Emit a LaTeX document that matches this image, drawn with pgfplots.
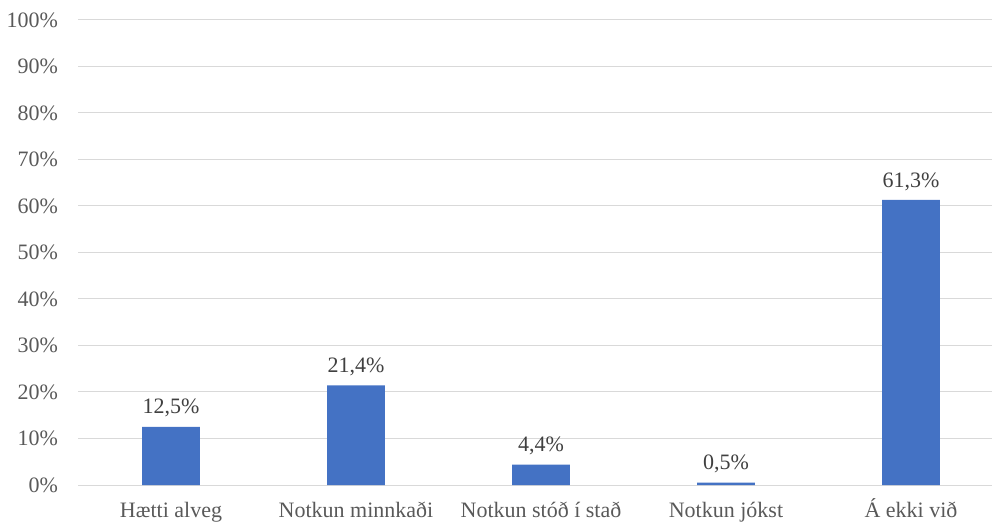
\documentclass[border=0pt]{standalone}
\usepackage{pgfplots}
\pgfplotsset{compat=1.18}
\usepackage{fontspec}
\setmainfont{Liberation Serif}
\definecolor{barblue}{HTML}{4472C4}
\definecolor{gridgray}{HTML}{D9D9D9}
\definecolor{ticktext}{HTML}{595959}
\definecolor{labeltext}{HTML}{404040}
\begin{document}
\fontsize{22bp}{26bp}\selectfont
\begin{tikzpicture}
\begin{axis}[
  scale only axis,
  width=925bp, height=465bp,
  xmin=-0.5, xmax=4.5,
  ymin=0, ymax=100,
  ytick={0,10,...,100},
  yticklabel={\pgfmathprintnumber{\tick}\%},
  /pgf/number format/assume math mode=true,
  xtick=data,
  xticklabels={Hætti alveg, Notkun minnkaði, Notkun stóð í stað, Notkun jókst, Á ekki við},
  tick style={draw=none},
  ymajorgrids,
  grid style={gridgray, line width=1bp},
  axis x line*=bottom,
  axis y line*=left,
  y axis line style={draw=none},
  x axis line style={gridgray, line width=1bp, -},
  ticklabel style={ticktext, font=\fontsize{22bp}{26bp}\selectfont},
  yticklabel style={xshift=-13bp},
  xticklabel style={yshift=-5bp, text height=16bp, text depth=5bp},
  ybar,
  bar width=0.313,
  nodes near coords={\pgfmathprintnumber[fixed,fixed zerofill,precision=1,use comma]{\pgfplotspointmeta}\%},
  point meta=y,
  every node near coord/.append style={labeltext, font=\fontsize{22bp}{26bp}\selectfont, yshift=2bp},
]
\addplot[fill=barblue, draw=none] coordinates {(0,12.5) (1,21.4) (2,4.4) (3,0.5) (4,61.3)};
\end{axis}
\pgfresetboundingbox
\path (current axis.south west) ++(-78.5bp,-40bp) rectangle ++(992bp,525bp);
\end{tikzpicture}
\end{document}
